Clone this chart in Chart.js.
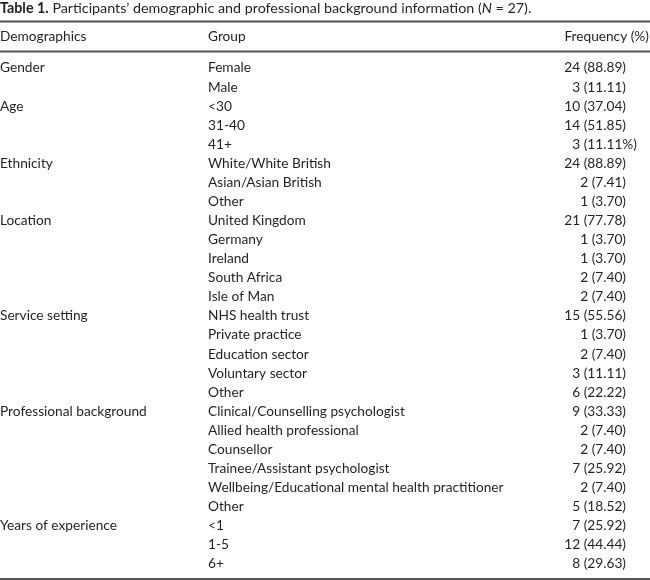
<!DOCTYPE html>
<html lang="en">
<head>
<meta charset="UTF-8">
<title>Table 1</title>
<script src="https://cdn.jsdelivr.net/npm/chart.js"></script>
<style>
  * { margin: 0; padding: 0; box-sizing: border-box; }
  body { background: #fff; width: 650px; height: 580px; overflow: hidden; }
  #wrap { position: relative; width: 650px; height: 580px; }
</style>
</head>
<body>
<div id="wrap"><canvas id="chart"></canvas></div>
<script>
// table data
const demographics = ["Gender", "Age", "Ethnicity", "Location", "Service setting", "Professional background", "Years of experience"];
const groupSizes = [2, 3, 3, 5, 5, 6, 3];
const groups = [
  "Female", "Male",
  "<30", "31-40", "41+",
  "White/White British", "Asian/Asian British", "Other",
  "United Kingdom", "Germany", "Ireland", "South Africa", "Isle of Man",
  "NHS health trust", "Private practice", "Education sector", "Voluntary sector", "Other",
  "Clinical/Counselling psychologist", "Allied health professional", "Counsellor",
  "Trainee/Assistant psychologist", "Wellbeing/Educational mental health practitioner", "Other",
  "<1", "1-5", "6+"
];
const counts = [24, 3, 10, 14, 3, 24, 2, 1, 21, 1, 1, 2, 2, 15, 1, 2, 3, 6, 9, 2, 2, 7, 2, 5, 7, 12, 8];
const percents = ["88.89", "11.11", "37.04", "51.85", "11.11%", "88.89", "7.41", "3.70",
  "77.78", "3.70", "3.70", "7.40", "7.40", "55.56", "3.70", "7.40", "11.11", "22.22",
  "33.33", "7.40", "7.40", "25.92", "7.40", "18.52", "25.92", "44.44", "29.63"];
const headers = ["Demographics", "Group", "Frequency (%)"];

const FONT = "Lato, 'Open Sans', sans-serif";
const INK = "#231f20";
const RULE = "#555555";

const tablePlugin = {
  id: "tableText",
  afterDraw(chart, args, opts) {
    const ctx = chart.ctx;
    const ys = chart.scales.y, xs = chart.scales.x;
    const area = chart.chartArea;
    const colDemo = xs.getPixelForValue(opts.cols[0]);
    const colGroup = xs.getPixelForValue(opts.cols[1]);
    const colFreq = xs.getPixelForValue(opts.cols[2]);
    const colHead = xs.getPixelForValue(opts.cols[3]);
    const sz = opts.size + "px ";
    const tsz = opts.titleSize + "px ";
    ctx.save();
    ctx.textBaseline = "middle";
    ctx.fillStyle = INK;

    // title
    const ty = opts.titleY;
    let x = 0;
    const parts = [
      ["bold " + tsz + FONT, "Table 1."],
      [tsz + FONT, " Participants\u2019 demographic and professional background information ("],
      ["italic " + tsz + FONT, "N"],
      [tsz + FONT, " = 27)."]
    ];
    parts.forEach(([f, t]) => {
      ctx.font = f;
      ctx.textAlign = "left";
      ctx.fillText(t, x, ty);
      x += ctx.measureText(t).width;
    });

    // rules
    ctx.strokeStyle = RULE;
    ctx.lineWidth = 2;
    [opts.rule1, opts.rule2, area.bottom + opts.bottomGap].forEach(y => {
      ctx.beginPath();
      ctx.moveTo(area.left, y);
      ctx.lineTo(area.right, y);
      ctx.stroke();
    });

    // header
    ctx.font = sz + FONT;
    ctx.textAlign = "left";
    ctx.fillText(headers[0], colDemo, opts.headerY);
    ctx.fillText(headers[1], colGroup, opts.headerY);
    ctx.textAlign = "right";
    ctx.fillText(headers[2], colHead, opts.headerY);

    // body
    let row = 0;
    demographics.forEach((d, i) => {
      ctx.textAlign = "left";
      ctx.fillText(d, colDemo, ys.getPixelForValue(row));
      row += groupSizes[i];
    });
    groups.forEach((g, i) => {
      const y = ys.getPixelForValue(i);
      ctx.textAlign = "left";
      ctx.fillText(g, colGroup, y);
      const p = percents[i];
      const base = counts[i] + " (" + p.replace("%", "") + ")";
      const full = counts[i] + " (" + p + ")";
      const w = ctx.measureText(base).width;
      ctx.fillText(full, colFreq - w, y);
    });
    ctx.restore();
  }
};

new Chart(document.getElementById("chart"), {
  type: "bar",
  data: {
    labels: groups,
    datasets: [{ data: counts, backgroundColor: "rgba(0,0,0,0)" }]
  },
  options: {
    indexAxis: "y",
    responsive: true,
    maintainAspectRatio: false,
    animation: false,
    layout: { padding: { top: 58.5, bottom: 6.5, left: 0, right: 0 } },
    scales: {
      x: { type: "linear", min: 0, max: 650, display: false },
      y: { type: "category", offset: true, display: false }
    },
    plugins: {
      legend: { display: false },
      tooltip: { enabled: false },
      tableText: {
        cols: [0, 208, 626, 649],
        size: 13.7,
        titleSize: 14.3,
        titleY: 8,
        rule1: 21.5,
        headerY: 37,
        rule2: 51.5,
        bottomGap: 5.5
      }
    }
  },
  plugins: [tablePlugin]
});
</script>
</body>
</html>
